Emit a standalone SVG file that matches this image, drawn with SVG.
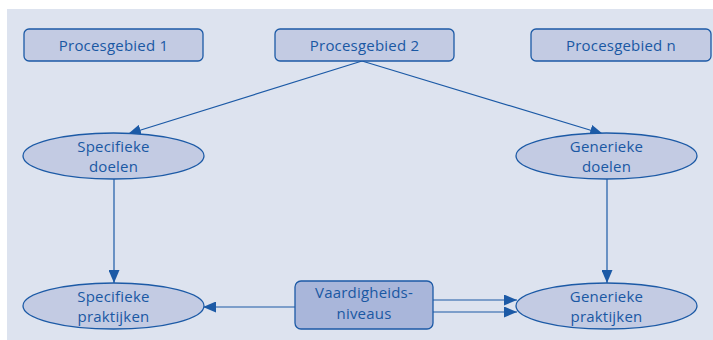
<svg xmlns="http://www.w3.org/2000/svg" width="713" height="340" viewBox="0 0 713 340">
<defs>
<style>
.box{fill:#c3cbe3;stroke:#1c5aa6;stroke-width:1.3}
.dark{fill:#a9b6da;stroke:#1c5aa6;stroke-width:1.3}
.ell{fill:#c3cbe3;stroke:#1c5aa6;stroke-width:1.3}
.t{font-family:"Open Sans","Noto Sans",sans-serif;font-size:15px;fill:#1a58a3;text-anchor:middle;letter-spacing:0.2px}
.ln{stroke:#1c5aa6;stroke-width:1.2;fill:none}
</style>
<marker id="ah" viewBox="0 0 13 11" refX="13" refY="5.5" markerWidth="13" markerHeight="11" markerUnits="userSpaceOnUse" orient="auto">
<path d="M0,0 L13,5.5 L0,11 Z" fill="#1c5aa6"/>
</marker>
</defs>
<rect x="7" y="9" width="706" height="331" fill="#dde3ef"/>
<g id="connectors">
<line class="ln" x1="362" y1="61" x2="128" y2="134" marker-end="url(#ah)"/>
<line class="ln" x1="362" y1="61" x2="603" y2="134" marker-end="url(#ah)"/>
<line class="ln" x1="114" y1="179" x2="114" y2="283" marker-end="url(#ah)"/>
<line class="ln" x1="607" y1="179" x2="607" y2="283" marker-end="url(#ah)"/>
<line class="ln" x1="295" y1="307" x2="203" y2="307" marker-end="url(#ah)"/>
<line class="ln" x1="433" y1="300" x2="517" y2="300" marker-end="url(#ah)"/>
<line class="ln" x1="433" y1="312" x2="517" y2="312" marker-end="url(#ah)"/>
</g>
<g id="pg1"><rect class="box" x="24" y="29" width="179" height="32" rx="5"/><text class="t" x="113.5" y="50.5">Procesgebied 1</text></g>
<g id="pg2"><rect class="box" x="275" y="29" width="179" height="32" rx="5"/><text class="t" x="364.5" y="50.5">Procesgebied 2</text></g>
<g id="pgn"><rect class="box" x="531" y="29" width="180" height="32" rx="5"/><text class="t" x="621" y="50.5">Procesgebied n</text></g>
<g id="sd"><ellipse class="ell" cx="113.5" cy="156" rx="90.5" ry="23"/><text class="t" x="113.5" y="152">Specifieke</text><text class="t" x="113.5" y="172">doelen</text></g>
<g id="gd"><ellipse class="ell" cx="606.5" cy="156" rx="90.5" ry="23"/><text class="t" x="606.5" y="152">Generieke</text><text class="t" x="606.5" y="172">doelen</text></g>
<g id="sp"><ellipse class="ell" cx="113.5" cy="306" rx="90.5" ry="23"/><text class="t" x="113.5" y="302">Specifieke</text><text class="t" x="113.5" y="322">praktijken</text></g>
<g id="gp"><ellipse class="ell" cx="606.5" cy="306" rx="90.5" ry="23"/><text class="t" x="606.5" y="302">Generieke</text><text class="t" x="606.5" y="322">praktijken</text></g>
<g id="vn"><rect class="dark" x="295" y="281" width="138" height="48" rx="6"/><text class="t" x="364" y="298">Vaardigheids-</text><text class="t" x="364" y="319">niveaus</text></g>
</svg>
